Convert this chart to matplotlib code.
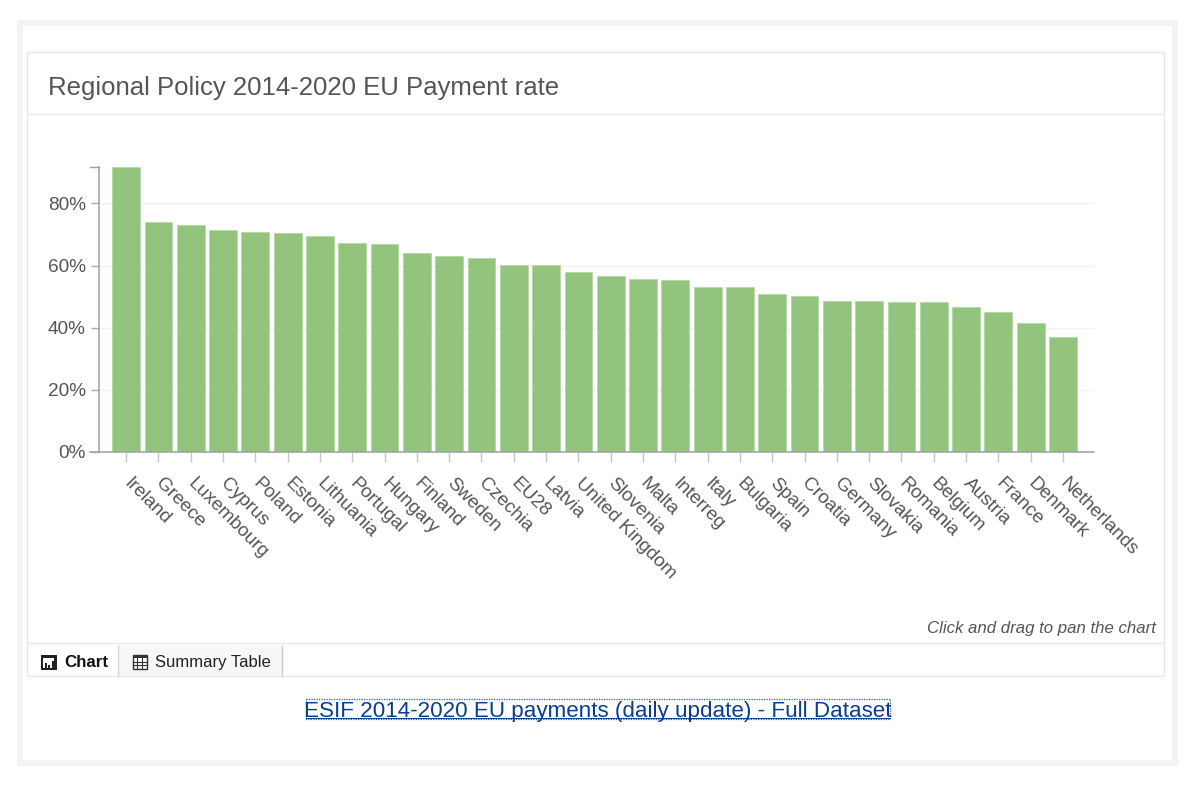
import matplotlib
matplotlib.use("Agg")
import matplotlib.pyplot as plt
from matplotlib.patches import Rectangle

plt.rcParams['font.family'] = ['Liberation Sans', 'DejaVu Sans']

# Values, in percent
countries = ["Ireland", "Greece", "Luxembourg", "Cyprus", "Poland", "Estonia", "Lithuania",
             "Portugal", "Hungary", "Finland", "Sweden", "Czechia", "EU28", "Latvia",
             "United Kingdom", "Slovenia", "Malta", "Interreg", "Italy", "Bulgaria", "Spain",
             "Croatia", "Germany", "Slovakia", "Romania", "Belgium", "Austria", "France",
             "Denmark", "Netherlands"]
payment_rate = [91.7, 74.05, 73.1, 71.4, 70.7, 70.4, 69.5, 67.4, 66.9, 64.1, 63.1, 62.5, 60.2, 60.2,
                58.05, 56.6, 55.7, 55.4, 53.2, 53.2, 50.8, 50.2, 48.7, 48.7, 48.4, 48.4, 46.6, 45.1,
                41.4, 36.9]
y_ticks = [0, 20, 40, 60, 80]

W, H = 1200, 786
BORDER = "#e8e8e8"
TEXT = "#555555"

fig = plt.figure(figsize=(W / 100, H / 100), dpi=100, facecolor="white")

# Page furniture, drawn in pixel coordinates
page = fig.add_axes([0, 0, 1, 1], zorder=0)
page.set_xlim(0, W)
page.set_ylim(H, 0)
page.axis("off")

page.add_patch(Rectangle((20, 23), 1155, 740, fc="white", ec="#f3f3f3", lw=4.3))
page.add_patch(Rectangle((27, 52), 1137, 624, fc="white", ec=BORDER, lw=1))
page.plot([27, 1164], [114, 114], color=BORDER, lw=1)
page.plot([27, 1164], [643, 643], color=BORDER, lw=1)

page.text(48, 88, "Regional Policy 2014-2020 EU Payment rate", fontsize=18.5, color=TEXT,
          va="center", ha="left")
page.text(1156, 628, "Click and drag to pan the chart", fontsize=12.1, color=TEXT,
          style="italic", va="center", ha="right")

# Tabs under the chart
page.add_patch(Rectangle((118, 646), 164, 30, fc="#f7f7f7", ec="none"))
page.plot([118, 118], [646, 676], color="#d5d5d5", lw=1)
page.plot([282, 282], [646, 676], color="#cccccc", lw=1)
page.text(64, 662.5, "Chart", fontsize=12.2, fontweight="bold", color="#111111", va="center")
page.text(155, 662, "Summary Table", fontsize=12, color="#222222", va="center")

# Chart tab icon
page.add_patch(Rectangle((41, 654.5), 15.5, 15.5, fc="#222222", ec="none"))
page.add_patch(Rectangle((43, 658), 11, 9.5, fc="white", ec="none"))
for bx, bh in zip([44.5, 48, 51.5], [5, 3, 7]):
    page.add_patch(Rectangle((bx, 668 - bh), 2.2, bh, fc="#222222", ec="none"))

# Table tab icon
page.add_patch(Rectangle((132.5, 655), 14, 14, fc="white", ec="#333333", lw=1))
page.add_patch(Rectangle((132.5, 655), 14, 3, fc="#333333", ec="none"))
for gx in [137, 142]:
    page.plot([gx, gx], [656, 669], color="#333333", lw=0.8)
for gy in [661.5, 665]:
    page.plot([132.5, 146.5], [gy, gy], color="#333333", lw=0.8)

# Link with its dotted focus box
page.text(598, 711, "ESIF 2014-2020 EU payments (daily update) - Full Dataset", fontsize=16.1,
          color="#0a3d8f", va="center", ha="center")
page.add_patch(Rectangle((305.5, 698.5), 584.5, 20.5, fc="none", ec="#2a5caa", lw=0.9, ls=(0, (1, 1))))
page.plot([305.5, 890], [718, 718], color="#0a3d8f", lw=0.7)

# Bar chart, axes box placed to match pixel extents of the plot
left, right, top, bottom = 98.5, 1094, 167, 452
ax = fig.add_axes([left / W, 1 - bottom / H, (right - left) / W, (bottom - top) / H], zorder=1)
ax.patch.set_alpha(0)

positions = list(range(len(countries)))
ax.bar(positions, payment_rate, width=0.86, color="#93c47d", edgecolor="#b5d8a5", linewidth=0.6, zorder=2)

ax.set_xlim(-0.855, 29.96)
ax.set_ylim(0, 91.75)

ax.set_yticks(y_ticks)
ax.set_yticklabels([f"{v}%" for v in y_ticks], fontsize=13.7, color=TEXT)
ax.grid(axis="y", color="#f1f1f1", lw=1, zorder=0)
ax.tick_params(axis="y", length=6, width=1, color="#aaaaaa", pad=3)

ax.set_xticks(positions)
ax.set_xticklabels(countries, rotation=-45, rotation_mode="anchor", ha="left", va="center",
                   fontsize=13.7, color=TEXT)
ax.tick_params(axis="x", length=7, width=1, color="#c4c4c4", pad=14)

for name, spine in ax.spines.items():
    spine.set_visible(name in ("left", "bottom"))
    spine.set_color("#a0a0a0")
    spine.set_linewidth(1.1)

# End caps of the value axis
ax.plot([-0.855 - 8 / 32.3, -0.855], [91.7, 91.7], color="#a0a0a0", lw=1, clip_on=False)
ax.plot([-0.855 - 8 / 32.3, -0.855], [0, 0], color="#a0a0a0", lw=1.1, clip_on=False)

fig.savefig("out.png", dpi=100)
